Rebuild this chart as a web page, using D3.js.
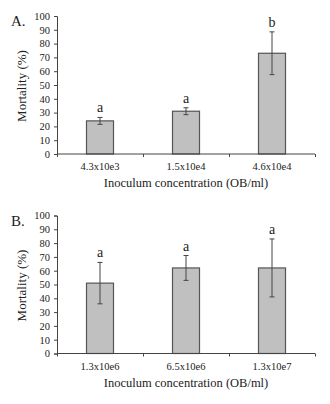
<!DOCTYPE html>
<html>
<head>
<meta charset="utf-8">
<script src="https://cdn.jsdelivr.net/npm/d3@7"></script>
<style>
body { margin: 0; background: #fff; }
svg text { font-family: "Liberation Serif", "DejaVu Serif", serif !important; fill: #222; }
</style>
</head>
<body>
<svg width="330" height="404"></svg>
<script>
// Panel A
const catsA = ["4.3x10e3", "1.5x10e4", "4.6x10e4"];
const meanA = [24, 31, 73];
const errA = [2.5, 2.5, 15.5];
const letA = ["a", "a", "b"];

// Panel B
const catsB = ["1.3x10e6", "6.5x10e6", "1.3x10e7"];
const meanB = [51, 62, 62];
const errB = [15, 9, 21];
const letB = ["a", "a", "a"];

const yTicks = [0, 10, 20, 30, 40, 50, 60, 70, 80, 90, 100];

const svg = d3.select("svg");

function panel(label, cats, means, errs, letters, top) {
    const left = 57, right = 315;
    const y0 = top + 138, y1 = top;
    const g = svg.append("g");

    const x = d3.scaleBand().domain(cats).range([left, right])
        .paddingInner(0.686).paddingOuter(0.343);
    const xb = d3.scaleLinear().domain([0, cats.length]).range([left, right]);
    const y = d3.scaleLinear().domain([0, 100]).range([y0, y1]);

    const data = cats.map((c, i) => ({c: c, m: means[i], e: errs[i], l: letters[i]}));

    // bars
    g.selectAll("rect.bar").data(data).enter().append("rect")
        .attr("x", d => x(d.c))
        .attr("y", d => y(d.m))
        .attr("width", x.bandwidth())
        .attr("height", d => y(0) - y(d.m))
        .attr("fill", "#c0c0c0")
        .attr("stroke", "#555")
        .attr("stroke-width", 1.2);

    // error bars
    const cx = d => x(d.c) + x.bandwidth() / 2;
    const eb = g.selectAll("g.err").data(data).enter().append("g")
        .attr("stroke", "#444").attr("stroke-width", 1);
    eb.append("line").attr("x1", cx).attr("x2", cx)
        .attr("y1", d => y(d.m + d.e)).attr("y2", d => y(d.m - d.e));
    eb.append("line").attr("x1", d => cx(d) - 2.5).attr("x2", d => cx(d) + 2.5)
        .attr("y1", d => y(d.m + d.e)).attr("y2", d => y(d.m + d.e));
    eb.append("line").attr("x1", d => cx(d) - 2.5).attr("x2", d => cx(d) + 2.5)
        .attr("y1", d => y(d.m - d.e)).attr("y2", d => y(d.m - d.e));

    // letters
    g.selectAll("text.let").data(data).enter().append("text")
        .attr("x", cx)
        .attr("y", d => y(d.m + d.e) - 5)
        .attr("text-anchor", "middle")
        .attr("font-size", 14)
        .text(d => d.l);

    // y axis
    const yAxis = d3.axisLeft(y).tickValues(yTicks).tickSize(3).tickPadding(4);
    const ya = g.append("g").attr("transform", `translate(${left},0)`).call(yAxis);
    ya.attr("font-family", null);
    ya.selectAll("text").attr("font-size", 10.5);
    ya.selectAll("line, path").attr("stroke", "#444");

    // x axis: ticks at category boundaries
    const xAxis = d3.axisBottom(xb).tickValues(d3.range(0, cats.length + 1)).tickSize(3).tickFormat("");
    const xa = g.append("g").attr("transform", `translate(0,${y0})`).call(xAxis);
    xa.selectAll("line, path").attr("stroke", "#444");
    xa.select(".domain").attr("d", `M${left},0H${right}`);

    g.selectAll("text.cat").data(cats).enter().append("text")
        .attr("x", d => x(d) + x.bandwidth() / 2)
        .attr("y", y0 + 16)
        .attr("text-anchor", "middle")
        .attr("font-size", 10.5)
        .text(d => d);

    g.append("text")
        .attr("x", (left + right) / 2)
        .attr("y", y0 + 33)
        .attr("text-anchor", "middle")
        .attr("font-size", 12.5)
        .text("Inoculum concentration (OB/ml)");

    g.append("text")
        .attr("transform", `translate(26,${(y0 + y1) / 2 + 1}) rotate(-90)`)
        .attr("text-anchor", "middle")
        .attr("font-size", 13)
        .text("Mortality (%)");

    g.append("text")
        .attr("x", 11)
        .attr("y", top + 10)
        .attr("font-size", 15)
        .text(label);
}

panel("A.", catsA, meanA, errA, letA, 16);
panel("B.", catsB, meanB, errB, letB, 215.5);
</script>
</body>
</html>
